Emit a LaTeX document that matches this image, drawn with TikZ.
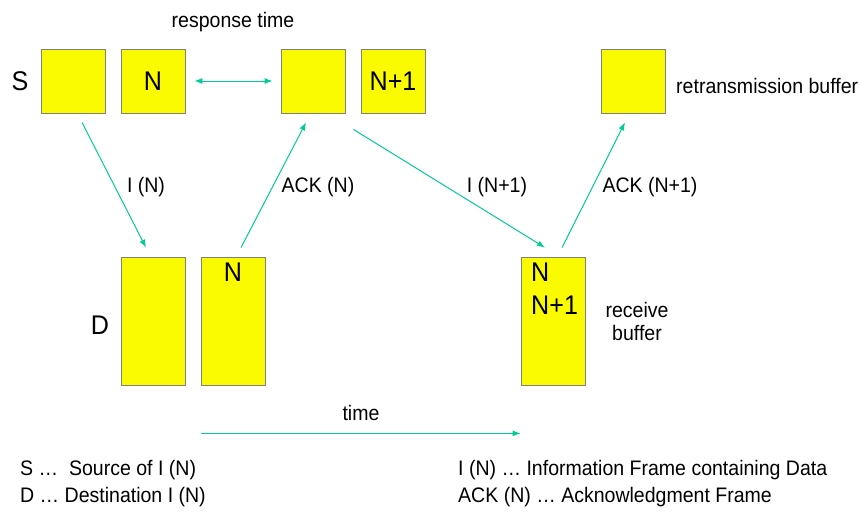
\documentclass[tikz,border=0pt]{standalone}
\usepackage{fontspec}
\setmainfont{Liberation Sans}[FakeStretch=0.93]
\usepackage{tikz}
\usetikzlibrary{arrows.meta,calc}

\definecolor{bufyellow}{RGB}{250,250,0}
\definecolor{bufedge}{RGB}{128,128,128}
\definecolor{msggreen}{RGB}{0,204,150}

\tikzset{
    buf/.style = {draw = bufedge, fill = bufyellow, line width = 0.8pt,
        minimum width = 64pt, minimum height = 64pt, inner sep = 0pt},
    tallbuf/.style = {buf, minimum height = 128pt},
    msg/.style = {draw = msggreen, line width = 1pt,
        -{Latex[length = 8pt, width = 6pt]}},
    txt/.style = {font = \fontsize{21}{23}\selectfont, inner sep = 0pt},
    bigtxt/.style = {font = \fontsize{27}{30}\selectfont, inner sep = 0pt}
}

\begin{document}
\begin{tikzpicture}[x = 1pt, y = -1pt]
        \useasboundingbox (0,0) rectangle (861,512);

        % source side
        \node[buf] (s1) at (73,81) {};
        \node[buf, bigtxt] (s2) at (153,81) {N};
        \node[buf] (s3) at (313,81) {};
        \node[buf, bigtxt] (s4) at (393,81) {N+1};
        \node[buf] (s5) at (633,81) {};
        \node[bigtxt] (slab) at (20,81) {S};
        \node[txt] (resp) at (233,22) {response time};
        \node[txt, anchor = west] (retr) at (676,86) {retransmission buffer};

        % destination side
        \node[tallbuf] (d1) at (153,321) {};
        \node[tallbuf] (d2) at (233,321) {};
        \node[bigtxt] (dn) at (233,272) {N};
        \node[tallbuf] (r) at (553,321) {};
        \node[bigtxt, anchor = west] (rn) at (531,272) {N};
        \node[bigtxt, anchor = west] (rn1) at (531,305) {N+1};
        \node[bigtxt] (dlab) at (100,325) {D};
        \node[txt, align = center] (recv) at (637,321) {receive\\buffer};

        % frames
        \coordinate (in0) at ([shift = {(9,9)}]s1.south);
        \coordinate (in1) at ([shift = {(-7,-9)}]d1.north);
        \draw[msg] (in0) -- (in1);
        \node[txt] (lin) at (146,187) {I (N)};

        \coordinate (ack0) at ([shift = {(8,-9)}]d2.north);
        \coordinate (ack1) at ([shift = {(-7,9)}]s3.south);
        \draw[msg] (ack0) -- (ack1);
        \node[txt] (lack) at (318,187) {ACK (N)};

        \coordinate (inn0) at ([shift = {(8,16)}]s3.south east);
        \coordinate (inn1) at ([shift = {(-8,-9)}]r.north);
        \draw[msg] (inn0) -- (inn1);
        \node[txt] (linn) at (497,187) {I (N+1)};

        \coordinate (ackn0) at ([shift = {(9,-9)}]r.north);
        \coordinate (ackn1) at ([shift = {(-8,9)}]s5.south);
        \draw[msg] (ackn0) -- (ackn1);
        \node[txt] (lackn) at (650,187) {ACK (N+1)};

        \draw[msg, {Latex[length = 8pt, width = 6pt]}-{Latex[length = 8pt, width = 6pt]},
            shorten <= 9pt, shorten >= 8pt] (s2.east) -- (s3.west);

        % time axis
        \coordinate (t0) at ([shift = {(0,48)}]d2.south west);
        \coordinate (t1) at ([shift = {(0,48)}]r.south west);
        \draw[msg] (t0) -- (t1);
        \node[txt] (ltime) at (361,413) {time};

        % legend
        \node[txt, anchor = west] (leg1) at (20,470) {S \dots\ \ Source of I (N)};
        \node[txt, anchor = west] (leg2) at (20,497) {D \dots\ Destination I (N)};
        \node[txt, anchor = west] (leg3) at (458,470) {I (N) \dots\ Information Frame containing Data};
        \node[txt, anchor = west] (leg4) at (458,497) {ACK (N) \dots\ Acknowledgment Frame};
    \end{tikzpicture}
\end{document}
